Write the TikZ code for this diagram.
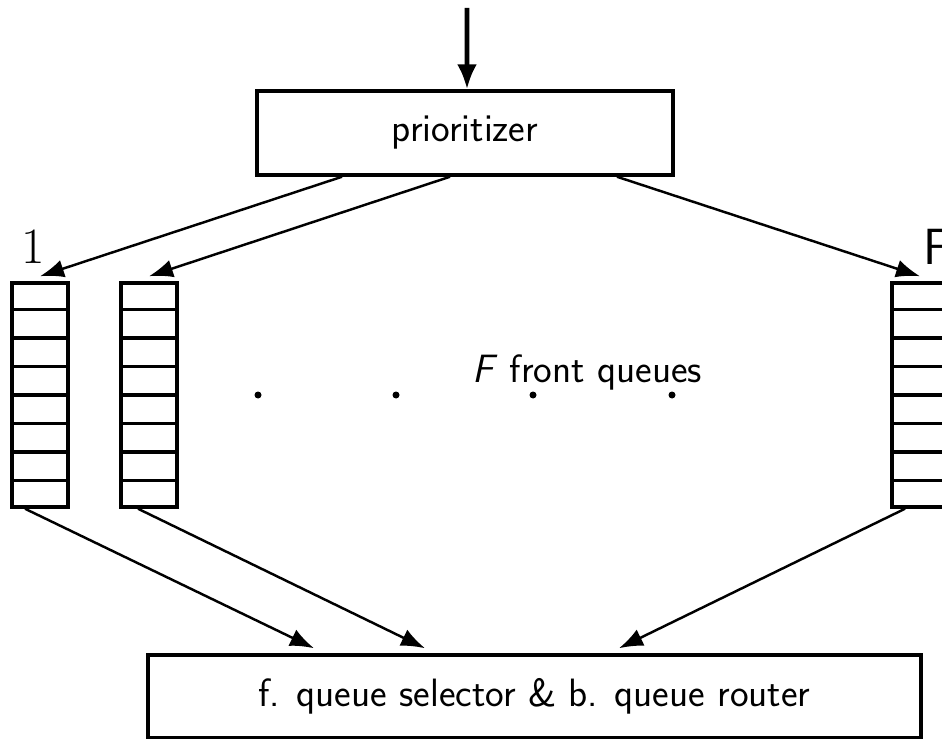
\documentclass[tikz,border=0pt]{standalone}
\usetikzlibrary{positioning, arrows.meta, calc}

\begin{document}
\begin{tikzpicture}[
  x=0.02cm, y=-0.02cm,
  every node/.style={font=\sffamily\fontsize{22.5}{26}\selectfont},
  box/.style={draw, line width=2pt, inner sep=0pt},
  queue/.style={draw, line width=2pt, minimum width=1.12cm, minimum height=4.48cm, inner sep=0pt},
  feed/.style={-{Latex[length=4.8mm,width=3.6mm]}, line width=1.4pt}
]
  \useasboundingbox (0,0) rectangle (942,739);
  \clip (0,0) rectangle (942,739);

  % boxes
  \node[box, minimum width=8.32cm, minimum height=1.68cm] (prio) at (465,133) {prioritizer};
  \node[box, minimum width=15.46cm, minimum height=1.66cm] (sel) at (534.5,696.5)
    {f. queue selector \& b. queue router};

  % front queues
  \node[queue] (q1) at (40,395) {};
  \node[queue] (q2) at (149,395) {};
  \node[queue] (qF) at (920,395) {};
  \foreach \q in {q1,q2,qF}
    \foreach \i in {1,...,7}
      \draw[line width=1.9pt] ($(\q.north west)!\i/8!(\q.south west)$) -- ($(\q.north east)!\i/8!(\q.south east)$);

  \node[font=\rmfamily\fontsize{29}{32}\selectfont] (one) at (33,247) {1};
  \node[font=\sffamily\fontsize{29}{32}\selectfont] (last) at (937,247) {F};
  \node[anchor=base] (lbl) at (587,382) {\textsl{F} front queues};
  \foreach \x in {258,396,533,672}
    \fill (\x,395) circle[radius=0.07cm];

  % arrows
  \coordinate (in) at (467,8);
  \draw[-{Latex[length=5mm,width=4mm]}, line width=2.6pt] (in) -- ([xshift=0.04cm]prio.north);
  \draw[feed] ([xshift=-2.46cm]prio.south) -- ([yshift=0.1cm]q1.north);
  \draw[feed] ([xshift=-0.3cm]prio.south) -- ([yshift=0.1cm]q2.north);
  \draw[feed] ([xshift=3.04cm]prio.south) -- ([yshift=0.1cm]qF.north);
  \draw[feed] ([xshift=-0.3cm]q1.south) -- ([xshift=-4.41cm,yshift=0.1cm]sel.north);
  \draw[feed] ([xshift=-0.22cm]q2.south) -- ([xshift=-2.19cm,yshift=0.1cm]sel.north);
  \draw[feed] ([xshift=-0.3cm]qF.south) -- ([xshift=1.69cm,yshift=0.1cm]sel.north);
\end{tikzpicture}
\end{document}
